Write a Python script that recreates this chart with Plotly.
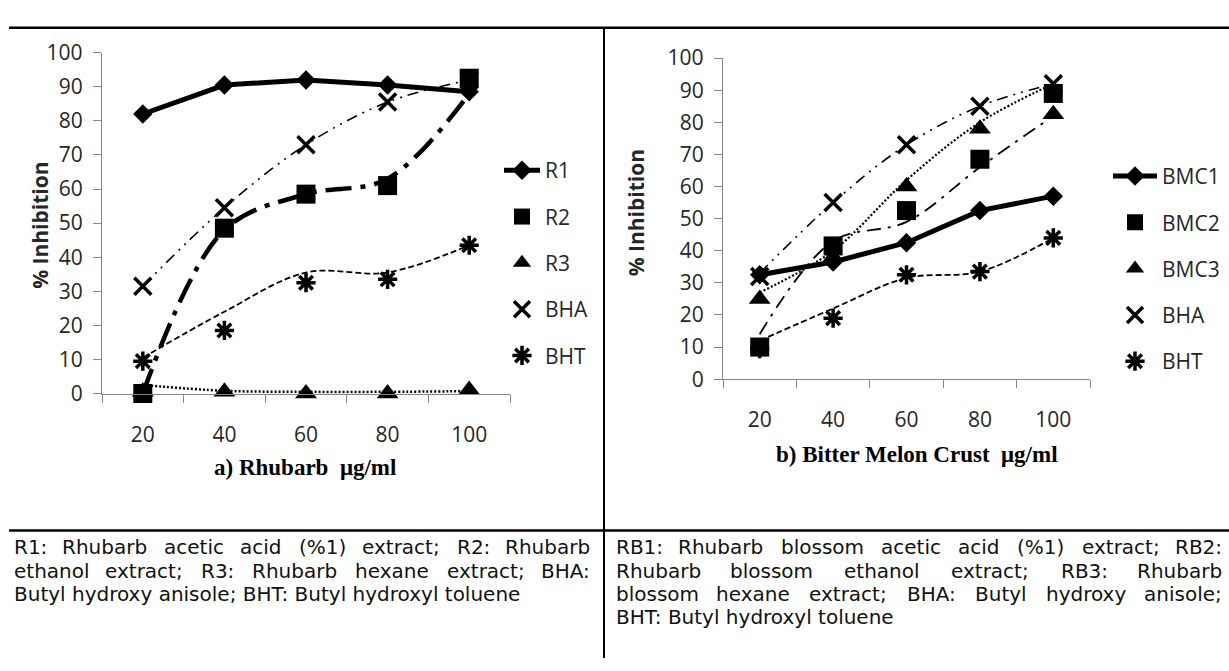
import plotly.graph_objects as go

# ---------------- data ----------------
conc = [20, 40, 60, 80, 100]
conc_labels = ["20", "40", "60", "80", "100"]

# a) Rhubarb
r1 = [82, 90.5, 92, 90.5, 88.5]
r2 = [0, 48.5, 58.5, 61, 92.5]
r3 = [0.5, 0.5, 0, 0, 1]
bha_a = [31.5, 54.5, 73, 85.5, 92]
bht_a = [9.5, 18.5, 32.5, 33.5, 43.5]
# trend lines
r2_line = [0, 48, 58.5, 63, 88]
r3_line = [2.5, 0.8, 0.5, 0.5, 0.7]
bha_a_line = [31.5, 54.5, 73, 85.5, 92]
bht_a_line = [10.5, 24, 35.5, 35.5, 43.5]

# b) Bitter Melon Crust
bmc1 = [32.5, 36.5, 42.5, 52.5, 57]
bmc2 = [10, 41.5, 52.5, 68.5, 89]
bmc3 = [25, 38, 60, 78, 82.5]
bha_b = [32, 55, 73, 85, 92]
bht_b = [9.5, 19, 32.5, 33.5, 44]
bmc2_line = [14, 43, 49, 66, 82]
bmc3_line = [27, 40, 62, 80, 92]
bha_b_line = [33, 55, 73, 85, 92]
bht_b_line = [12, 22, 31.5, 33.5, 44]

left_notes = ["R1: Rhubarb acetic acid (%1) extract; R2: Rhubarb",
              "ethanol extract; R3: Rhubarb hexane extract; BHA:",
              "Butyl hydroxy anisole; BHT: Butyl hydroxyl toluene"]
right_notes = ["RB1: Rhubarb blossom acetic acid (%1) extract; RB2:",
               "Rhubarb blossom ethanol extract; RB3: Rhubarb",
               "blossom hexane extract; BHA: Butyl hydroxy anisole;",
               "BHT: Butyl hydroxyl toluene"]

W, H = 1229, 671
FONT = "'Open Sans', Lato, sans-serif"
NOTE_FONT = "'DejaVu Sans', 'Open Sans', sans-serif"
GRAY = "#868686"
TXT = "#262626"


def px(x):
    return x / W


def py(y):
    return 1 - y / H


fig = go.Figure()


def add(xs, ys, name, axis, legend, mode, symbol=None, msize=14, mlw=0,
        lw=0, dash="solid", shape="linear", showlegend=True, group=None):
    xa, ya = axis
    kw = {}
    if "markers" in mode:
        kw["marker"] = dict(symbol=symbol, size=msize, color="black",
                            line=dict(color="black", width=mlw))
    if "lines" in mode:
        kw["line"] = dict(color="black", width=lw, dash=dash, shape=shape,
                          smoothing=1.0)
    fig.add_trace(go.Scatter(x=xs, y=ys, name=name, mode=mode, xaxis=xa,
                             yaxis=ya, legend=legend, showlegend=showlegend,
                             legendgroup=group or name, cliponaxis=False,
                             **kw))


A = ("x", "y")
B = ("x2", "y2")

# trend lines (drawn first, below markers)
add(conc, r2_line, "R2 line", A, "legend", "lines", lw=4.5,
    dash="26px,9px,5px,9px", shape="spline", showlegend=False)
add(conc, r3_line, "R3 line", A, "legend", "lines", lw=2.5,
    dash="2px,2px", shape="spline", showlegend=False)
add(conc, bha_a_line, "BHA line", A, "legend", "lines", lw=1.6,
    dash="11px,6px,2px,6px,2px,6px", shape="spline", showlegend=False)
add(conc, bht_a_line, "BHT line", A, "legend", "lines", lw=1.8,
    dash="6px,3px", shape="spline", showlegend=False)

add(conc, r1, "R1", A, "legend", "lines+markers", symbol="diamond",
    msize=15, lw=5)
add(conc, r2, "R2", A, "legend", "markers", symbol="square", msize=19)
add(conc, r3, "R3", A, "legend", "markers", symbol="triangle-up", msize=19)
add(conc, bha_a, "BHA", A, "legend", "markers", symbol="x-thin-open",
    msize=17, mlw=3.5)
add(conc, bht_a, "BHT", A, "legend", "markers", symbol="asterisk-open",
    msize=16, mlw=3.5)

add(conc, bmc2_line, "BMC2 line", B, "legend2", "lines", lw=1.8,
    dash="14px,7px,3px,7px", shape="spline", showlegend=False)
add(conc, bmc3_line, "BMC3 line", B, "legend2", "lines", lw=2.2,
    dash="2px,2px", shape="spline", showlegend=False)
add(conc, bha_b_line, "BHA2 line", B, "legend2", "lines", lw=1.6,
    dash="11px,6px,2px,6px,2px,6px", shape="spline", showlegend=False)
add(conc, bht_b_line, "BHT2 line", B, "legend2", "lines", lw=1.8,
    dash="6px,3px", shape="spline", showlegend=False)

add(conc, bmc1, "BMC1", B, "legend2", "lines+markers", symbol="diamond",
    msize=15, lw=5)
add(conc, bmc2, "BMC2", B, "legend2", "markers", symbol="square", msize=19)
add(conc, bmc3, "BMC3", B, "legend2", "markers", symbol="triangle-up",
    msize=19)
add(conc, bha_b, "BHA", B, "legend2", "markers", symbol="x-thin-open",
    msize=17, mlw=3.5, group="BHA2")
add(conc, bht_b, "BHT", B, "legend2", "markers", symbol="asterisk-open",
    msize=16, mlw=3.5, group="BHT2")


def xaxis_cfg(x0, x1, anchor):
    return dict(domain=[px(x0), px(x1)], range=[10, 110], anchor=anchor,
                tickmode="array", tickvals=conc, ticktext=conc_labels,
                ticks="", showline=True, linecolor=GRAY, linewidth=1.3,
                showgrid=False, zeroline=False, ticklabelstandoff=22,
                tickfont=dict(family=FONT, size=21, color=TXT),
                minor=dict(tickmode="linear", tick0=10, dtick=20,
                           ticks="outside", ticklen=8, tickcolor=GRAY,
                           tickwidth=1.3, showgrid=False),
                fixedrange=True)


def yaxis_cfg(y0, y1, anchor):
    return dict(domain=[py(y0), py(y1)], range=[0, 100], anchor=anchor,
                tickmode="linear", tick0=0, dtick=10, ticks="outside",
                ticklen=8, tickcolor=GRAY, tickwidth=1.3, showline=True,
                linecolor=GRAY, linewidth=1.3, showgrid=False,
                zeroline=False, ticklabelstandoff=6,
                tickfont=dict(family=FONT, size=21, color=TXT),
                fixedrange=True)


fig.update_layout(
    width=W, height=H, autosize=False,
    margin=dict(l=0, r=0, t=0, b=0),
    paper_bgcolor="white", plot_bgcolor="white",
    xaxis=xaxis_cfg(102, 510, "y"),
    yaxis=yaxis_cfg(395, 39.3, "x"),
    xaxis2=xaxis_cfg(723, 1090, "y2"),
    yaxis2=yaxis_cfg(380, 45, "x2"),
    legend=dict(x=px(499), y=py(141), xanchor="left", yanchor="top",
                tracegroupgap=16, itemwidth=36, bgcolor="rgba(0,0,0,0)",
                font=dict(family=FONT, size=21, color=TXT)),
    legend2=dict(x=px(1108), y=py(147), xanchor="left", yanchor="top",
                 tracegroupgap=16, itemwidth=44, bgcolor="rgba(0,0,0,0)",
                 font=dict(family=FONT, size=21, color=TXT)),
    showlegend=True,
)

# table borders
shapes = [
    dict(type="line", xref="paper", yref="paper", x0=px(9), x1=1,
         y0=py(13.3), y1=py(13.3), line=dict(color="black", width=2.6)),
    dict(type="line", xref="paper", yref="paper", x0=px(9), x1=1,
         y0=py(538), y1=py(538), line=dict(color="black", width=2.6)),
    dict(type="line", xref="paper", yref="paper", x0=px(604), x1=px(604),
         y0=py(13.3), y1=0, line=dict(color="black", width=2)),
]
fig.update_layout(shapes=shapes)


def note(text, x, y, xanchor="center", size=21, family=FONT, angle=0,
         color=TXT):
    return dict(text=text, x=px(x), y=py(y), xref="paper", yref="paper",
                xanchor=xanchor, yanchor="middle", showarrow=False,
                textangle=angle,
                font=dict(family=family, size=size, color=color))


SERIF = "'Liberation Serif', 'Times New Roman', serif"
ann = [
    note("<b>% Inhibition</b>", 40, 220, size=21, angle=-90),
    note("<b>% Inhibition</b>", 636, 207, size=21, angle=-90),
    note("<b>a) Rhubarb  μg/ml</b>", 305, 472, size=23, family=SERIF,
         color="black"),
    note("<b>b) Bitter Melon Crust  μg/ml</b>", 917, 459, size=23,
         family=SERIF, color="black"),
]

# approximate DejaVu Sans glyph widths (em) for justification
CW = {"a": 0.613, "b": 0.635, "c": 0.55, "d": 0.635, "e": 0.615, "f": 0.352,
      "g": 0.635, "h": 0.634, "i": 0.278, "j": 0.278, "k": 0.579, "l": 0.278,
      "m": 0.974, "n": 0.634, "o": 0.612, "p": 0.635, "r": 0.411, "s": 0.521,
      "t": 0.392, "u": 0.634, "x": 0.592, "y": 0.592, "z": 0.525,
      "A": 0.684, "B": 0.686, "H": 0.752, "R": 0.695, "T": 0.611,
      "1": 0.636, "2": 0.636, "3": 0.636, "%": 0.95, "(": 0.39, ")": 0.39,
      ":": 0.337, ";": 0.337}
NOTE_SIZE = 20


def wwidth(w):
    return sum(CW.get(c, 0.6) for c in w) * NOTE_SIZE


def add_line(text, x0, x1, yc, justify):
    words = text.split(" ")
    if not justify or len(words) < 2:
        ann.append(note(text, x0, yc, xanchor="left", size=NOTE_SIZE,
                        family=NOTE_FONT, color="#111"))
        return
    widths = [wwidth(w) for w in words]
    gap = (x1 - x0 - sum(widths)) / (len(words) - 1)
    pos = x0
    for i, (w, wd) in enumerate(zip(words, widths)):
        if i == 0:
            xa, xx = "left", x0
        elif i == len(words) - 1:
            xa, xx = "right", x1
        else:
            xa, xx = "center", pos + wd / 2
        ann.append(note(w, xx, yc, xanchor=xa, size=NOTE_SIZE,
                        family=NOTE_FONT, color="#111"))
        pos += wd + gap


ys = [555, 580, 604, 628]
for i, t in enumerate(left_notes):
    add_line(t, 12, 592, ys[i], i < len(left_notes) - 1)
for i, t in enumerate(right_notes):
    add_line(t, 614, 1224, ys[i], i < len(right_notes) - 1)

fig.update_layout(annotations=ann)

fig.write_html("out.html", config={"displayModeBar": False},
               post_script="document.body.style.margin='0';"
                           "document.body.style.overflow='hidden';")
